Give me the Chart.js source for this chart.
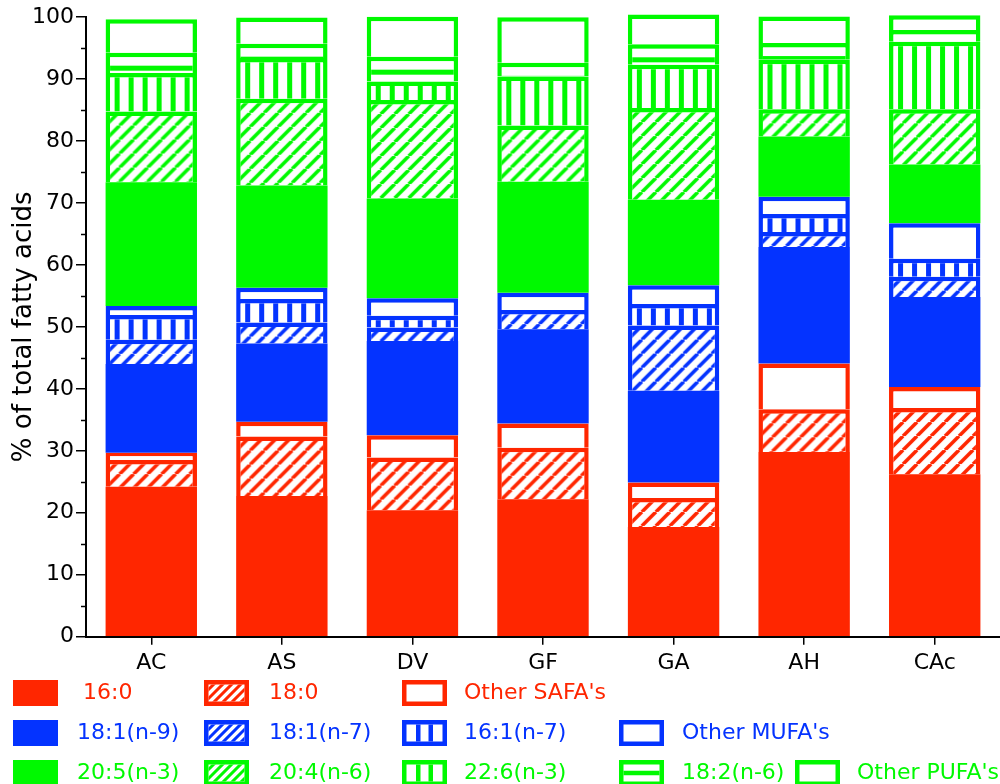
<!DOCTYPE html>
<html>
<head>
<meta charset="utf-8">
<title>Fatty acid composition</title>
<script src="https://cdn.jsdelivr.net/npm/chart.js@4.4.0/dist/chart.umd.min.js"></script>
<style>
  html, body { margin: 0; padding: 0; background: #fff; overflow: hidden; }
  #wrap { width: 1000px; height: 784px; position: relative; }
</style>
</head>
<body>
<div id="wrap"><canvas id="faChart"></canvas></div>
<script>
// --- 1. DATA (% of total fatty acids) ---
const categories = ['AC', 'AS', 'DV', 'GF', 'GA', 'AH', 'CAc'];

const fa16_0      = [24.2, 22.7, 20.4, 22.2, 17.7, 29.8, 26.2];
const fa18_0      = [4.3, 9.6, 8.5, 8.3, 4.7, 6.9, 10.7];
const otherSAFA   = [1.2, 2.4, 3.6, 3.9, 2.5, 7.4, 3.4];
const fa18_1n9    = [14.3, 12.6, 15.2, 15.2, 14.8, 18.8, 14.5];
const fa18_1n7    = [3.9, 3.4, 2.2, 3.1, 10.5, 2.4, 3.3];
const fa16_1n7    = [4.0, 3.8, 1.9, 0, 3.5, 2.9, 2.9];
const otherMUFA   = [1.45, 1.8, 2.8, 2.8, 3.0, 2.8, 5.7];
const fa20_5n3    = [20.0, 16.5, 16.1, 17.9, 13.8, 9.7, 9.5];
const fa20_4n6    = [11.4, 14.0, 15.9, 9.1, 14.8, 4.4, 8.9];
const fa22_6n3    = [6.2, 6.6, 3.0, 7.9, 7.0, 8.0, 10.9];
const fa18_2n6    = [3.3, 2.3, 4.0, 2.2, 3.3, 2.7, 1.9];
const otherPUFA   = [5.4, 4.2, 6.45, 7.35, 4.8, 4.3, 2.4];

const yTicks      = [0, 10, 20, 30, 40, 50, 60, 70, 80, 90, 100];
const yMinorTicks = [5, 15, 25, 35, 45, 55, 65, 75, 85, 95];

// --- 2. STYLE ---
const RED = '#FF2600';
const BLUE = '#0433FF';
const GREEN = '#00F900';
const FONT = '"DejaVu Sans", Verdana, sans-serif';
const BAR_PCT = 0.7;
const BORDER = 4.5;

// bottom to top of each stack
const series = [
  { label: '16:0',         data: fa16_0,    color: RED,   kind: 'solid' },
  { label: '18:0',         data: fa18_0,    color: RED,   kind: 'hatch' },
  { label: "Other SAFA's", data: otherSAFA, color: RED,   kind: 'open' },
  { label: '18:1(n-9)',    data: fa18_1n9,  color: BLUE,  kind: 'solid' },
  { label: '18:1(n-7)',    data: fa18_1n7,  color: BLUE,  kind: 'hatch' },
  { label: '16:1(n-7)',    data: fa16_1n7,  color: BLUE,  kind: 'vstripe' },
  { label: "Other MUFA's", data: otherMUFA, color: BLUE,  kind: 'open' },
  { label: '20:5(n-3)',    data: fa20_5n3,  color: GREEN, kind: 'solid' },
  { label: '20:4(n-6)',    data: fa20_4n6,  color: GREEN, kind: 'hatch' },
  { label: '22:6(n-3)',    data: fa22_6n3,  color: GREEN, kind: 'vstripe' },
  { label: '18:2(n-6)',    data: fa18_2n6,  color: GREEN, kind: 'hstripe' },
  { label: "Other PUFA's", data: otherPUFA, color: GREEN, kind: 'open' }
];

// legend layout: [series index, swatch x, text x] per row
const legendRows = [
  { y: 680, items: [[0, 13, 83], [1, 204, 269], [2, 402, 464]] },
  { y: 720, items: [[3, 13, 77], [4, 204, 269], [5, 402, 464], [6, 619, 682]] },
  { y: 760, items: [[7, 13, 77], [8, 204, 269], [9, 402, 464], [10, 619, 682], [11, 795, 857]] }
];

// --- 3. PATTERNS ---
const canvas = document.getElementById('faChart');
const patternCtx = document.createElement('canvas').getContext('2d');
const tileCache = {};
const patternCache = {};

function makeTile(kind, color) {
  const key = kind + color;
  if (tileCache[key]) return tileCache[key];
  const t = document.createElement('canvas');
  const g = t.getContext('2d');
  if (kind === 'hatch') {
    t.width = 14; t.height = 14;
    g.fillStyle = '#fff'; g.fillRect(0, 0, 14, 14);
    g.strokeStyle = color; g.lineWidth = 3.6;
    g.beginPath();
    for (const k of [-14, 0, 14]) { g.moveTo(k, 14); g.lineTo(k + 14, 0); }
    g.stroke();
  } else if (kind === 'vstripe') {
    t.width = 14; t.height = 4;
    g.fillStyle = '#fff'; g.fillRect(0, 0, 14, 4);
    g.fillStyle = color; g.fillRect(0, 0, 5, 4);
  } else {
    t.width = 4; t.height = 14;
    g.fillStyle = '#fff'; g.fillRect(0, 0, 4, 14);
    g.fillStyle = color; g.fillRect(0, 0, 4, 5);
  }
  tileCache[key] = t;
  return t;
}

function patternFor(kind, color, ox, oy) {
  const key = [kind, color, ox.toFixed(1), oy.toFixed(1)].join('|');
  if (patternCache[key]) return patternCache[key];
  const p = patternCtx.createPattern(makeTile(kind, color), 'repeat');
  p.setTransform(new DOMMatrix([1, 0, 0, 1, ox, oy]));
  patternCache[key] = p;
  return p;
}

function segmentFill(s, si) {
  return function (c) {
    if (s.kind === 'solid') return s.color;
    if (s.kind === 'open') return '#ffffff';
    const xs = c.chart.scales.x, ys = c.chart.scales.y;
    if (c.type !== 'data' || !xs || !ys) return '#ffffff';
    const i = c.dataIndex;
    const barW = (xs.width / categories.length) * BAR_PCT;
    const left = xs.getPixelForValue(i) - barW / 2;
    let cum = 0;
    for (let k = 0; k <= si; k++) cum += series[k].data[i];
    const top = ys.getPixelForValue(cum);
    if (s.kind === 'hatch') return patternFor('hatch', s.color, left, top);
    if (s.kind === 'vstripe') return patternFor('vstripe', s.color, left + 9, 0);
    return patternFor('hstripe', s.color, 0, top + 13);
  };
}

// --- 4. LEGEND + MINOR TICKS ---
function drawSwatch(g, kind, color, x, y) {
  const w = 45, h = 26, b = 4.5;
  g.save();
  g.fillStyle = color;
  g.fillRect(x, y, w, h);
  if (kind !== 'solid') {
    g.fillStyle = '#fff';
    g.fillRect(x + b, y + b, w - 2 * b, h - 2 * b);
    g.beginPath();
    g.rect(x + b, y + b, w - 2 * b, h - 2 * b);
    g.clip();
    g.fillStyle = color;
    g.strokeStyle = color;
    if (kind === 'hatch') {
      g.lineWidth = 3;
      g.beginPath();
      for (let k = -30; k < 60; k += 9) { g.moveTo(x + k, y + h); g.lineTo(x + k + h, y); }
      g.stroke();
    } else if (kind === 'vstripe') {
      g.fillRect(x + 14, y, 4.5, h);
      g.fillRect(x + 26.5, y, 4.5, h);
    } else if (kind === 'hstripe') {
      g.fillRect(x, y + h / 2 - 2.25, w, 4.5);
    }
  }
  g.restore();
}

const extrasPlugin = {
  id: 'extras',
  afterDraw(chart) {
    const g = chart.ctx;
    const ys = chart.scales.y;
    const left = chart.chartArea.left;
    g.save();
    g.strokeStyle = '#000';
    g.lineWidth = 1.5;
    yMinorTicks.forEach(v => {
      const py = Math.round(ys.getPixelForValue(v)) + 0.5;
      g.beginPath(); g.moveTo(left - 5, py); g.lineTo(left, py); g.stroke();
    });
    g.font = '22px ' + FONT;
    g.textBaseline = 'middle';
    g.textAlign = 'left';
    legendRows.forEach(row => {
      row.items.forEach(([si, sx, tx]) => {
        const s = series[si];
        drawSwatch(g, s.kind, s.color, sx, row.y);
        g.fillStyle = s.color;
        g.fillText(s.label, tx, row.y + 13);
      });
    });
    g.restore();
  }
};

// --- 5. CHART ---
new Chart(canvas, {
  type: 'bar',
  data: {
    labels: categories,
    datasets: series.map((s, si) => ({
      label: s.label,
      data: s.data,
      backgroundColor: segmentFill(s, si),
      borderColor: s.color,
      borderWidth: s.kind === 'solid' ? 0 : BORDER,
      borderSkipped: 'bottom',
      barPercentage: BAR_PCT,
      categoryPercentage: 1,
      clip: false
    }))
  },
  options: {
    responsive: true,
    maintainAspectRatio: false,
    animation: false,
    devicePixelRatio: 1,
    layout: { padding: { top: 17, right: 0, left: 0, bottom: 0 } },
    plugins: { legend: { display: false }, tooltip: { enabled: false } },
    scales: {
      x: {
        stacked: true,
        grid: { offset: false, drawOnChartArea: false, drawTicks: true, tickLength: 8, color: '#000', lineWidth: 1.5 },
        border: { display: true, color: '#000', width: 2 },
        ticks: { color: '#000', font: { family: FONT, size: 22 }, padding: 5 },
        afterFit: s => { s.height = 147.3; }
      },
      y: {
        stacked: true,
        min: 0,
        max: 100,
        afterBuildTicks: s => { s.ticks = yTicks.map(v => ({ value: v })); },
        grid: { drawOnChartArea: false, drawTicks: true, tickLength: 10, color: '#000', lineWidth: 1.5 },
        border: { display: true, color: '#000', width: 2 },
        ticks: { color: '#000', font: { family: FONT, size: 22 }, padding: 2 },
        title: { display: true, text: '% of total fatty acids', color: '#000', font: { family: FONT, size: 26 }, padding: { top: 9, bottom: 0 } },
        afterFit: s => { s.width = 86; }
      }
    }
  },
  plugins: [extrasPlugin]
});
</script>
</body>
</html>
